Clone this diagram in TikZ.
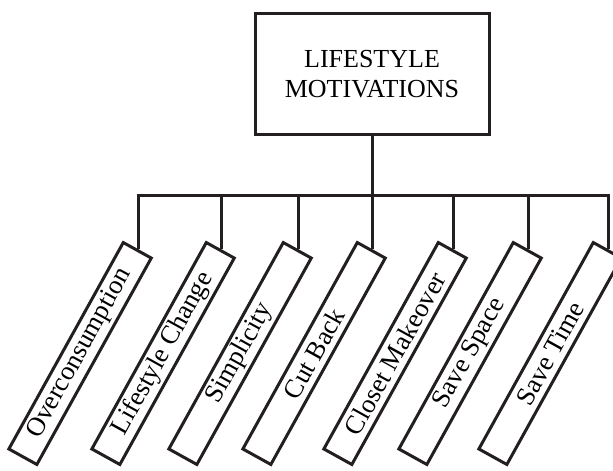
\documentclass[tikz,border=0pt]{standalone}
\usepackage{fontspec}
\setmainfont{Liberation Serif}
\definecolor{ink}{HTML}{231F20}
\begin{document}
\begin{tikzpicture}[x=1pt,y=1pt,
  topbox/.style={draw=ink, line width=3pt, minimum width=234pt, minimum height=121pt, align=center, font=\fontsize{26}{30}\selectfont, inner sep=0pt},
  catbox/.style={draw=ink, line width=3pt, rotate=61, anchor=east, minimum width=236pt, minimum height=32pt, inner sep=0pt, font=\fontsize{26.5}{30}\selectfont},
  link/.style={draw=ink, line width=3pt}]
\useasboundingbox (0,0) rectangle (613,471);
\node[topbox] (top) at (372,397) {LIFESTYLE\\MOTIVATIONS};
\coordinate (bar) at (0,275);
\node[catbox] (b1) at (138,222) {Overconsumption};
\node[catbox] (b2) at (221,222) {Lifestyle Change};
\node[catbox] (b3) at (298,222) {Simplicity};
\node[catbox] (b4) at (372,222) {Cut Back};
\node[catbox] (b5) at (453,222) {Closet Makeover};
\node[catbox] (b6) at (528,222) {Save Space};
\node[catbox] (b7) at (608,222) {Save Time};
\draw[link] (top.south) -- (top.south |- bar);
\draw[link] ([xshift=-1.5pt]b1.east |- bar) -- ([xshift=1.5pt]b7.east |- bar);
\foreach \b in {b1,b2,b3,b4,b5,b6,b7} {
  \draw[link] (\b.east) -- (\b.east |- bar);
}
\end{tikzpicture}
\end{document}
